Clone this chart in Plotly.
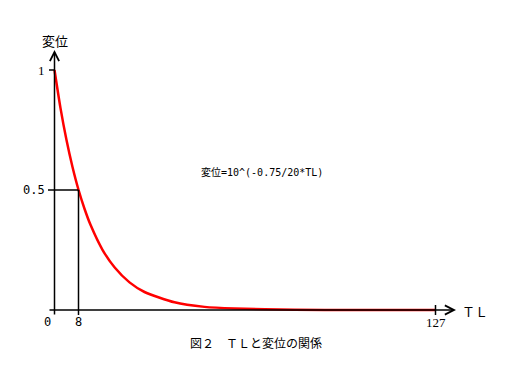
import plotly.graph_objects as go

# Curve values (displacement vs TL)
tl_values = [0, 2, 4, 6, 8, 10, 12, 16, 20, 25, 30, 40, 50, 60, 80, 100, 127]
disp_values = [1.0, 0.841, 0.708, 0.596, 0.501, 0.422, 0.355, 0.251, 0.178,
               0.115, 0.075, 0.032, 0.013, 0.006, 0.001, 0.0002, 0.0]

x_tick_vals = [0, 8, 127]
x_tick_text = ["0", "8", "127"]
y_tick_vals = [1, 0.5]
y_tick_text = ["1", "0.5"]
marker_tl = 8
marker_disp = 0.5

x_title = "ＴＬ"
y_title = "変位"
formula_text = "変位=10^(-0.75/20*TL)"
caption = "図２　ＴＬと変位の関係"

OFF = 8  # page body margin
W, H = 512 - OFF, 384 - OFF
X0PX, XSCALE = 54.5 - OFF, 3.0
Y0PX, YSCALE = 310.0 - OFF, 240.0
xr = [-X0PX / XSCALE, (W - X0PX) / XSCALE]
yr = [-(H - Y0PX) / YSCALE, Y0PX / YSCALE]

def px_x(p):
    return (p - OFF - X0PX) / XSCALE

def px_y(p):
    return (Y0PX - (p - OFF)) / YSCALE

fig = go.Figure()
fig.add_trace(go.Scatter(x=tl_values, y=disp_values, mode="lines",
                         line=dict(color="#ff0000", width=2.5, shape="spline", smoothing=0.6),
                         hoverinfo="skip", showlegend=False))

shapes = []
line_style = dict(color="black", width=1.5)
shapes.append(dict(type="line", xref="x", yref="y", x0=px_x(49), x1=0, y0=1, y1=1, line=line_style))
shapes.append(dict(type="line", xref="x", yref="y", x0=px_x(48), x1=marker_tl, y0=marker_disp, y1=marker_disp, line=line_style))
shapes.append(dict(type="line", xref="x", yref="y", x0=marker_tl, x1=marker_tl, y0=marker_disp, y1=px_y(315), line=line_style))
shapes.append(dict(type="line", xref="x", yref="y", x0=127, x1=127, y0=px_y(305), y1=px_y(315), line=line_style))

annotations = []
annotations.append(dict(x=px_x(456), y=0, ax=px_x(48), ay=0, xref="x", yref="y",
                        axref="x", ayref="y", showarrow=True, arrowhead=5, arrowsize=1.2,
                        arrowwidth=1.5, arrowcolor="black", text=""))
annotations.append(dict(x=0, y=px_y(50), ax=0, ay=px_y(316), xref="x", yref="y",
                        axref="x", ayref="y", showarrow=True, arrowhead=5, arrowsize=1.2,
                        arrowwidth=1.5, arrowcolor="black", text=""))

mono = "DejaVu Sans Mono"
serif = "Liberation Serif"
cjk = "Noto Sans CJK JP"

tick_fonts = {"0": (mono, 12), "8": (mono, 12), "127": (serif, 13)}
for v, t in zip(x_tick_vals, x_tick_text):
    xx = v - 2.5 if v == 0 else v
    fam, sz = tick_fonts[t]
    annotations.append(dict(x=xx, y=px_y(322), text=t, showarrow=False, xref="x", yref="y",
                            font=dict(family=fam, size=sz, color="black")))
y_fonts = {"1": (serif, 13), "0.5": (mono, 12)}
for v, t in zip(y_tick_vals, y_tick_text):
    fam, sz = y_fonts[t]
    annotations.append(dict(x=px_x(47), y=v, text=t, showarrow=False, xref="x", yref="y",
                            xanchor="right", font=dict(family=fam, size=sz, color="black")))

annotations.append(dict(x=0, y=px_y(40), text=y_title, showarrow=False, xref="x", yref="y",
                        font=dict(family=cjk, size=13, color="black")))
annotations.append(dict(x=px_x(460), y=px_y(311), text=x_title, showarrow=False, xref="x", yref="y",
                        xanchor="left", font=dict(family=cjk, size=13, color="black")))
annotations.append(dict(x=px_x(262), y=px_y(172), text=formula_text, showarrow=False, xref="x", yref="y",
                        font=dict(family=mono + ", " + cjk, size=10, color="black")))
annotations.append(dict(x=px_x(256), y=px_y(342), text=caption, showarrow=False, xref="x", yref="y",
                        font=dict(family=cjk, size=12, color="black")))

fig.update_layout(width=W, height=H, autosize=False,
                  margin=dict(l=0, r=0, t=0, b=0, pad=0),
                  paper_bgcolor="white", plot_bgcolor="white",
                  xaxis=dict(range=xr, visible=False, fixedrange=True),
                  yaxis=dict(range=yr, visible=False, fixedrange=True),
                  shapes=shapes, annotations=annotations, showlegend=False)

fig.write_html("out.html")
